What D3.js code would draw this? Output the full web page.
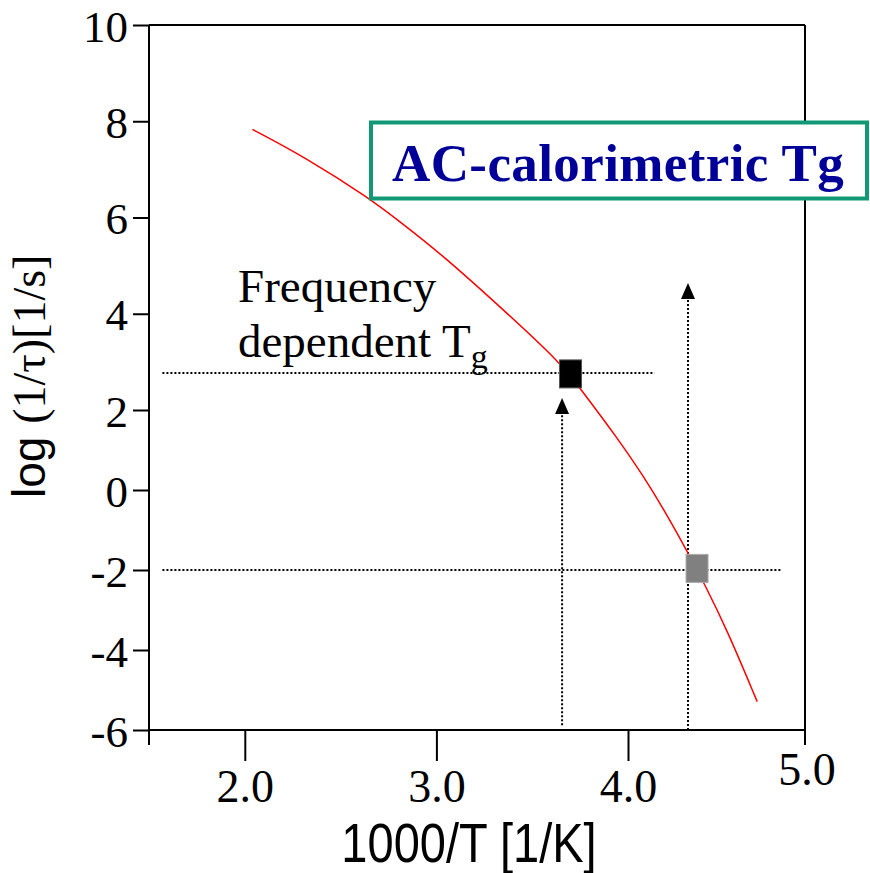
<!DOCTYPE html>
<html>
<head>
<meta charset="utf-8">
<script src="https://cdn.jsdelivr.net/npm/d3@7"></script>
<style>
  body { margin: 0; background: #fff; }
  svg { display: block; }
</style>
</head>
<body>
<script>
// axis ticks
var xTicks = [2, 3, 4];
var xLastTick = 5;
var yTicks = [10, 8, 6, 4, 2, 0, -2, -4, -6];

// red curve
var curveX = [2.04, 2.32, 2.65, 2.82, 3.02, 3.37, 3.65, 3.75, 3.94, 4.09, 4.22, 4.34, 4.43, 4.56, 4.73];
var curveY = [7.83, 7.24, 6.40, 5.88, 5.26, 4.01, 2.97, 2.45, 1.33, 0.33, -0.62, -1.58, -2.33, -3.50, -5.29];

// square markers (black = frequency dependent, gray = calorimetric)
var markerX = [3.70, 4.39];
var markerY = [2.75, -1.96];

// dotted guide lines
var hLineY = [2.77, -2.0];
var hLineX0 = [1.57, 1.57];
var hLineX1 = [4.15, 4.87];
var arrowX = [3.656, 4.339];
var arrowTop = [2.25, 4.64];
var arrowBottom = [-5.88, -6];

var width = 870;
var height = 873;
var serif = "'Liberation Serif', 'Times New Roman', serif";
var sans = "'Liberation Sans', Arial, sans-serif";

var svg = d3.select("body")
  .append("svg")
  .attr("width", width)
  .attr("height", height);

// the original figure has uneven spacing, so piecewise scales
var x = d3.scaleLinear()
  .domain([1.5, 4, 5])
  .range([149, 628, 805]);

var y = d3.scaleLinear()
  .domain([-6, 2, 10])
  .range([730, 410, 25]);

// frame
svg.append("line")
  .attr("x1", x(1.5)).attr("x2", x(5))
  .attr("y1", y(10)).attr("y2", y(10))
  .attr("stroke", "#000").attr("stroke-width", 2);
svg.append("line")
  .attr("x1", x(1.5)).attr("x2", x(5))
  .attr("y1", y(-6)).attr("y2", y(-6))
  .attr("stroke", "#000").attr("stroke-width", 2);
svg.append("line")
  .attr("x1", x(1.5)).attr("x2", x(1.5))
  .attr("y1", y(10)).attr("y2", y(-6) + 15)
  .attr("stroke", "#000").attr("stroke-width", 2);
svg.append("line")
  .attr("x1", x(5)).attr("x2", x(5))
  .attr("y1", y(10)).attr("y2", y(-6) + 15)
  .attr("stroke", "#000").attr("stroke-width", 2);

// y axis
var yAxis = d3.axisLeft(y)
  .tickValues(yTicks)
  .tickSize(16)
  .tickPadding(5)
  .tickFormat(function(d){ return String(d); });

svg.append("g")
  .attr("transform", "translate(" + x(1.5) + ",0)")
  .call(yAxis)
  .call(function(g){ g.select(".domain").remove(); })
  .call(function(g){
    g.selectAll(".tick line").attr("stroke-width", 2);
    g.selectAll(".tick text")
      .attr("dy", "0.36em")
      .style("font-family", serif)
      .style("font-size", "45px")
      .attr("fill", "#000");
  });

// x axis
var xAxis = d3.axisBottom(x)
  .tickValues(xTicks)
  .tickSize(31)
  .tickPadding(8)
  .tickFormat(function(d){ return d.toFixed(1); });

svg.append("g")
  .attr("transform", "translate(0," + y(-6) + ")")
  .call(xAxis)
  .call(function(g){ g.select(".domain").remove(); })
  .call(function(g){
    g.selectAll(".tick line").attr("stroke-width", 2);
    g.selectAll(".tick text")
      .style("font-family", serif)
      .style("font-size", "46px")
      .attr("fill", "#000");
  });

svg.append("text")
  .attr("x", x(xLastTick) + 2)
  .attr("y", 785)
  .attr("text-anchor", "middle")
  .style("font-family", serif)
  .style("font-size", "46px")
  .text(xLastTick.toFixed(1));

// axis titles
svg.append("text")
  .attr("transform", "translate(469,862) scale(0.84,1)")
  .attr("text-anchor", "middle")
  .style("font-family", sans)
  .style("font-size", "56px")
  .text("1000/T [1/K]");

var yTitle = svg.append("text")
  .attr("transform", "translate(45,498) rotate(-90)")
  .style("font-size", "46px");
yTitle.append("tspan")
  .style("font-family", sans)
  .text("log ");
yTitle.append("tspan")
  .style("font-family", serif)
  .text("(1/\u03c4)[1/s]");

// dotted guides
svg.selectAll(".hguide")
  .data(hLineY)
  .enter()
  .append("line")
  .attr("class", "hguide")
  .attr("x1", function(d, i){ return x(hLineX0[i]); })
  .attr("x2", function(d, i){ return x(hLineX1[i]); })
  .attr("y1", function(d){ return y(d); })
  .attr("y2", function(d){ return y(d); })
  .attr("stroke", "#000")
  .attr("stroke-width", 2)
  .attr("stroke-dasharray", "2,2");

svg.selectAll(".vguide")
  .data(arrowX)
  .enter()
  .append("line")
  .attr("class", "vguide")
  .attr("x1", function(d){ return x(d); })
  .attr("x2", function(d){ return x(d); })
  .attr("y1", function(d, i){ return y(arrowBottom[i]); })
  .attr("y2", function(d, i){ return y(arrowTop[i]) + 15; })
  .attr("stroke", "#000")
  .attr("stroke-width", 2)
  .attr("stroke-dasharray", "2,2");

svg.selectAll(".arrowhead")
  .data(arrowX)
  .enter()
  .append("path")
  .attr("class", "arrowhead")
  .attr("d", function(d, i){
    var cx = x(d), ty = y(arrowTop[i]);
    return "M" + cx + "," + ty + "L" + (cx + 7) + "," + (ty + 16) + "L" + (cx - 7) + "," + (ty + 16) + "Z";
  })
  .attr("fill", "#000");

// red curve
var line = d3.line()
  .x(function(d){ return x(d[0]); })
  .y(function(d){ return y(d[1]); })
  .curve(d3.curveBasis);

svg.append("path")
  .datum(d3.zip(curveX, curveY))
  .attr("d", line)
  .attr("fill", "none")
  .attr("stroke", "#ff0000")
  .attr("stroke-width", 1.5);

// markers
svg.selectAll(".marker")
  .data(markerX)
  .enter()
  .append("rect")
  .attr("class", "marker")
  .attr("x", function(d){ return x(d) - 11; })
  .attr("y", function(d, i){ return y(markerY[i]) - 14; })
  .attr("width", 22)
  .attr("height", 28)
  .attr("fill", function(d, i){ return i === 0 ? "#000" : "#808080"; })
  .attr("stroke", function(d, i){ return i === 0 ? "#555" : "#aaa"; })
  .attr("stroke-width", 1);

// annotation text
var ann = svg.append("g")
  .style("font-family", serif)
  .style("font-size", "47px")
  .attr("fill", "#000");
ann.append("text")
  .attr("x", 238)
  .attr("y", 302)
  .text("Frequency");
var dep = ann.append("text")
  .attr("x", 238)
  .attr("y", 357)
  .text("dependent T");
dep.append("tspan")
  .attr("dy", 11)
  .style("font-size", "34px")
  .text("g");

// title box
svg.append("rect")
  .attr("x", 371)
  .attr("y", 122.5)
  .attr("width", 496)
  .attr("height", 76)
  .attr("fill", "#fff")
  .attr("stroke", "#119874")
  .attr("stroke-width", 4);

svg.append("text")
  .attr("x", 392)
  .attr("y", 181)
  .style("font-family", serif)
  .style("font-size", "53px")
  .style("font-weight", "bold")
  .style("letter-spacing", "0.4px")
  .attr("fill", "#000099")
  .text("AC-calorimetric Tg");
</script>
</body>
</html>
